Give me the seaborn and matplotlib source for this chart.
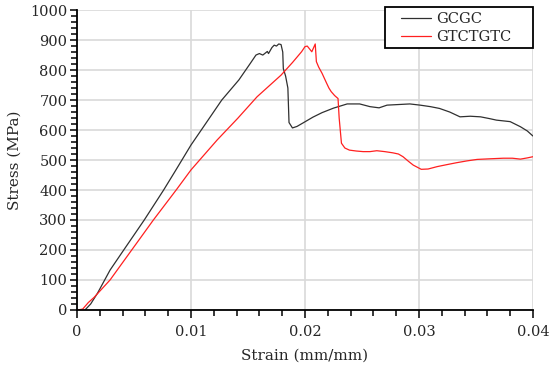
import pandas as pd
import seaborn as sns
import matplotlib.pyplot as plt
from matplotlib.ticker import MultipleLocator
from matplotlib.legend_handler import HandlerLine2D

# GCGC curve (strain, stress)
gcgc_strain = [0.0007, 0.0012, 0.0018, 0.0029, 0.0041, 0.0059, 0.0076, 0.0086, 0.0100,
               0.0111, 0.0127, 0.0142, 0.0152, 0.0157, 0.0160, 0.0163, 0.0167, 0.0168,
               0.0171, 0.0173, 0.0175, 0.0177, 0.0179, 0.01805, 0.0181, 0.0183, 0.0185,
               0.0186, 0.0189, 0.0193, 0.0198, 0.0207, 0.0215, 0.0225, 0.0237, 0.0248,
               0.0257, 0.0265, 0.0272, 0.0282, 0.0292, 0.0301, 0.0310, 0.0318, 0.0327,
               0.0336, 0.0345, 0.0354, 0.0362, 0.0368, 0.0380, 0.0389, 0.0395, 0.0400]
gcgc_stress = [0, 20, 56, 133, 200, 300, 400, 462, 550,
               611, 700, 767, 822, 850, 855, 850, 862, 855,
               875, 883, 880, 887, 885, 860, 805, 780, 740,
               625, 607, 612, 623, 643, 658, 673, 687, 687,
               678, 674, 683, 685, 687, 683, 678, 672, 660,
               644, 646, 644, 638, 633, 628, 611, 597, 580]

# GTCTGTC curve (strain, stress)
gtc_strain = [0.0001, 0.0005, 0.0010, 0.0015, 0.0029, 0.0048, 0.0067, 0.0087, 0.0100,
              0.0123, 0.0141, 0.0158, 0.0179, 0.0189, 0.0197, 0.0200, 0.0202, 0.0206,
              0.0209, 0.0210, 0.0212, 0.0215, 0.0219, 0.0221, 0.0223, 0.0226, 0.0229,
              0.0230, 0.0232, 0.0235, 0.0239, 0.0245, 0.0251, 0.0257, 0.0263, 0.0270,
              0.0277, 0.0282, 0.0286, 0.0291, 0.0295, 0.0302, 0.0308, 0.0316, 0.0325,
              0.0333, 0.0342, 0.0351, 0.0362, 0.0374, 0.0382, 0.0389, 0.0395, 0.0400]
gtc_stress = [0, 3, 25, 42, 100, 200, 300, 400, 467,
              567, 639, 711, 783, 825, 861, 878, 880, 861,
              887, 828, 810, 789, 756, 740, 728, 715, 705,
              640, 556, 540, 533, 530, 528, 528, 531, 528,
              524, 520, 511, 495, 483, 469, 470, 478, 485,
              491, 497, 502, 504, 506, 506, 503, 507, 511]

df_gcgc = pd.DataFrame({"Strain": gcgc_strain, "Stress": gcgc_stress})
df_gtc = pd.DataFrame({"Strain": gtc_strain, "Stress": gtc_stress})


class LeadLine(HandlerLine2D):
    # legend line that leaves a gap on its left, like the original legend
    def get_xdata(self, legend, xdescent, ydescent, width, height, fontsize):
        return [-xdescent + 0.27 * width, -xdescent + width], [-xdescent + 0.6 * width]


sns.set_theme(style="whitegrid")
plt.rcParams['font.family'] = ['DejaVu Serif']
plt.rcParams['font.size'] = 10.5

fig = plt.figure(figsize=(5.5, 3.73), dpi=100)
ax = fig.add_axes([0.14, 0.169, 0.829, 0.804])

sns.lineplot(x="Strain", y="Stress", data=df_gcgc, sort=False, estimator=None,
             color="#303030", linewidth=0.9, label="GCGC", ax=ax)
sns.lineplot(x="Strain", y="Stress", data=df_gtc, sort=False, estimator=None,
             color="#ff2020", linewidth=0.9, label="GTCTGTC", ax=ax)

ax.set_xlim(0, 0.04)
ax.set_ylim(0, 1000)
ax.xaxis.set_major_locator(MultipleLocator(0.01))
ax.xaxis.set_minor_locator(MultipleLocator(0.002))
ax.yaxis.set_major_locator(MultipleLocator(100))
ax.yaxis.set_minor_locator(MultipleLocator(20))
ax.set_xticks([0, 0.01, 0.02, 0.03, 0.04])
ax.set_xticklabels(["0", "0.01", "0.02", "0.03", "0.04"])

ax.grid(True, which="major", color="#d9d9d9", linewidth=1.2)
ax.grid(False, which="minor")
for side in ["top", "right"]:
    ax.spines[side].set_visible(False)
for side in ["left", "bottom"]:
    ax.spines[side].set_color("black")
    ax.spines[side].set_linewidth(1.3)

ax.tick_params(axis="x", which="major", direction="out", length=6, width=1.1,
               color="black", pad=5, labelsize=10.5, bottom=True)
ax.tick_params(axis="x", which="minor", direction="out", length=4, width=1.1,
               color="black", bottom=True)
ax.tick_params(axis="y", which="major", direction="out", length=5, width=1.1,
               color="black", pad=2, labelsize=10.5, left=True)
ax.tick_params(axis="y", which="minor", direction="out", length=4, width=1.1,
               color="black", left=True)

ax.set_xlabel("Strain (mm/mm)", fontsize=11, labelpad=7)
ax.set_ylabel("Stress (MPa)", fontsize=11, labelpad=6)

handles, labels = ax.get_legend_handles_labels()
leg = ax.legend(handles, labels, loc="upper right",
                bbox_to_anchor=(0.675, 0.86, 0.325, 0.149), mode="expand",
                fancybox=False, framealpha=1, edgecolor="black", fontsize=10.5,
                handlelength=2.9, handletextpad=0.35, borderpad=0.3,
                labelspacing=0.3, borderaxespad=0,
                handler_map={h: LeadLine() for h in handles})
leg.get_frame().set_linewidth(1.3)

fig.savefig("out.png", dpi=100)
